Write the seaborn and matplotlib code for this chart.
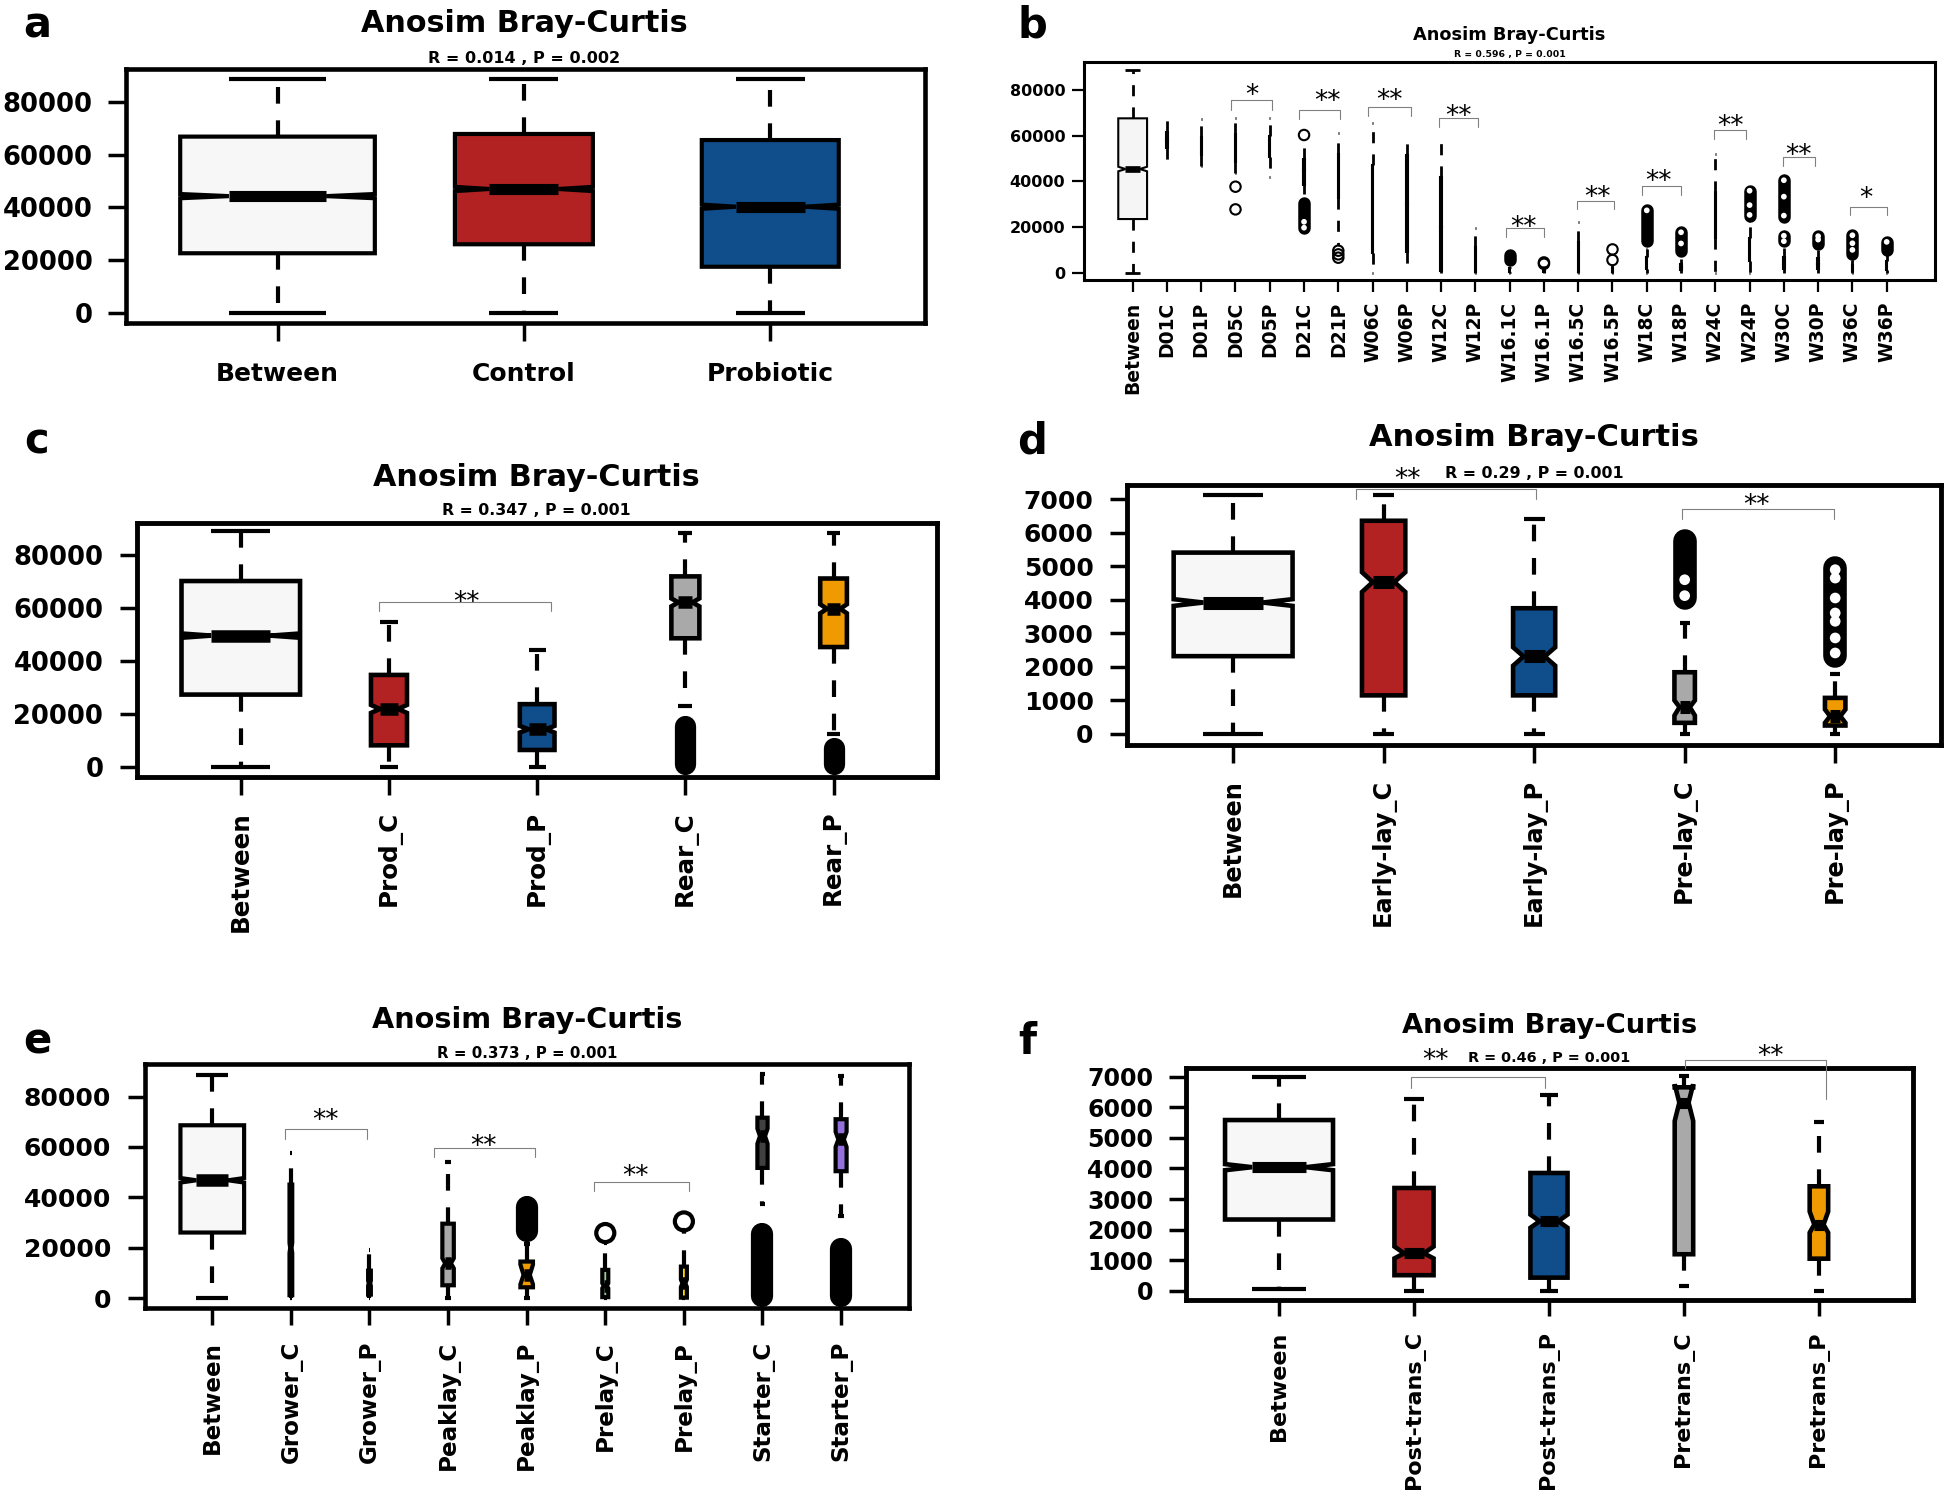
import numpy as np
import pandas as pd
import matplotlib
matplotlib.use("Agg")
import matplotlib.pyplot as plt
import seaborn as sns

sns.set_theme(style="ticks")
plt.rcParams["font.family"] = ["DejaVu Sans"]
plt.rcParams["figure.facecolor"] = "white"
plt.rcParams["axes.facecolor"] = "white"

W, H, DPI = 1946, 1506, 100

# ======================= DATA =======================
TITLE = "Anosim Bray-Curtis"

# ---- panel a ----
a_groups = ["Between", "Control", "Probiotic"]
a_whislo = [0, 0, 0]
a_q1 = [22700, 26100, 17600]
a_med = [44300, 47000, 40300]
a_q3 = [66800, 67800, 65500]
a_whishi = [88700, 88700, 88700]
a_cilo = [43500, 46200, 39500]
a_cihi = [45100, 47800, 41100]
a_fliers = [[], [], []]
a_bands = [[], [], []]
a_holes = [[], [], []]
a_stat = "R = 0.014 , P = 0.002"
a_brackets = []

# ---- panel b ----
b_groups = ["Between", "D01C", "D01P", "D05C", "D05P", "D21C", "D21P", "W06C", "W06P",
            "W12C", "W12P", "W16.1C", "W16.1P", "W16.5C", "W16.5P", "W18C", "W18P",
            "W24C", "W24P", "W30C", "W30P", "W36C", "W36P"]
b_whislo = [0, 45700, 46700, 43500, 42000, 34500, 12000, 0, 0, 0, 0, 0, 0, 0, 0, 0, 0,
            0, 0, 0, 0, 0, 0]
b_q1 = [23500, 54400, 51500, 48600, 50800, 38400, 32500, 8500, 9200, 800, 300, 500, 300,
        300, 300, 1500, 1000, 15000, 5000, 1500, 1500, 800, 1000]
b_med = [45400, 58000, 55000, 55000, 55000, 45000, 42000, 26000, 30000, 20000, 5000, 1000,
         1000, 5000, 1000, 4000, 2500, 25000, 10000, 4000, 4000, 2000, 3000]
b_q3 = [67600, 61700, 59300, 60700, 59800, 50000, 52200, 47100, 51500, 42000, 11400, 2000,
        1800, 13600, 2000, 7000, 4000, 35500, 15000, 7000, 6500, 3500, 5000]
b_whishi = [88700, 69000, 67100, 67900, 67600, 55200, 61300, 65400, 61000, 57800, 19400,
            2500, 3000, 22300, 3400, 10500, 6000, 51800, 22800, 10600, 10000, 5500, 7700]
b_cilo = [44400] + [m for m in b_med[1:]]
b_cihi = [46400] + [m for m in b_med[1:]]
b_fliers = [[], [], [], [37660, 27730], [], [60300], [9630, 8030, 6570], [], [], [], [],
            [], [4500, 3900], [], [10200, 5550], [], [], [], [], [], [], [], []]
b_bands = [[], [], [], [], [], [(19700, 30500)], [], [], [], [], [], [(5400, 7900)], [],
           [], [], [(14100, 27300)], [(9500, 17700)], [], [(25000, 35900)],
           [(24600, 40500), (13800, 16200)], [(12700, 16000)], [(8000, 16400)],
           [(10000, 13500)]]
b_holes = [[], [], [], [], [], [19700, 22300], [], [], [], [], [], [], [], [], [],
           [27300], [17700, 12800], [], [35900, 29600, 25300],
           [40500, 33300, 25000, 16200, 13800], [16000, 14500], [16400, 12900, 10000],
           [13500]]
b_stat = "R = 0.596 , P = 0.001"
b_brackets = [(2.87, 4.06, 75600, 71230, 71230, "*", 3.49, 81150),
              (4.86, 6.05, 71230, 67290, 67290, "**", 5.68, 78820),
              (6.87, 8.11, 72400, 68600, 68600, "**", 7.48, 78970),
              (8.94, 10.09, 67580, 63640, 63640, "**", 9.50, 71960),
              (10.89, 12.01, 19410, 15470, 15470, "**", 11.40, 23350),
              (12.97, 14.05, 31380, 27730, 27730, "**", 13.56, 36490),
              (14.87, 15.99, 38100, 34000, 34000, "**", 15.34, 43500),
              (16.97, 17.90, 62470, 58380, 58380, "**", 17.43, 67870),
              (18.98, 19.91, 50790, 46700, 46700, "**", 19.44, 55170),
              (20.93, 22.00, 28900, 25250, 25250, "*", 21.39, 36200)]

# ---- panel c ----
c_groups = ["Between", "Prod_C", "Prod_P", "Rear_C", "Rear_P"]
c_whislo = [0, 0, 0, 23000, 12500]
c_q1 = [27300, 8200, 6450, 48500, 45200]
c_med = [49500, 21900, 14250, 62000, 59600]
c_q3 = [70050, 34700, 23700, 71800, 71000]
c_whishi = [88700, 54600, 44100, 88100, 88100]
c_cilo = [48700, 20400, 13000, 60500, 57900]
c_cihi = [50300, 23400, 15500, 63500, 61300]
c_fliers = [[], [], [], [], []]
c_bands = [[], [], [], [(1000, 15300)], [(1000, 7200)]]
c_holes = [[], [], [], [], []]
c_stat = "R = 0.347 , P = 0.001"
c_brackets = [(0.93, 2.09, 61980, 58620, 58620, "**", 1.525, 64940)]

# ---- panel d ----
d_groups = ["Between", "Early-lay_C", "Early-lay_P", "Pre-lay_C", "Pre-lay_P"]
d_whislo = [0, 0, 0, 0, 0]
d_q1 = [2320, 1150, 1150, 330, 250]
d_med = [3920, 4530, 2310, 800, 530]
d_q3 = [5410, 6360, 3750, 1840, 1075]
d_whishi = [7140, 7140, 6410, 3300, 1800]
d_cilo = [3820, 4235, 2035, 550, 330]
d_cihi = [4020, 4825, 2585, 1000, 730]
d_fliers = [[], [], [], [], []]
d_bands = [[], [], [], [(4070, 5750)], [(2330, 4960)]]
d_holes = [[], [], [], [4600, 4125], [4900, 4650, 4055, 3608, 3360, 2863, 2415]]
d_stat = "R = 0.29 , P = 0.001"
d_brackets = [(0.817, 2.01, 7298, 7000, 7000, "**", 1.159, 7831),
              (2.98, 3.99, 6712, 6424, 6424, "**", 3.48, 7064)]

# ---- panel e ----
e_groups = ["Between", "Grower_C", "Grower_P", "Peaklay_C", "Peaklay_P", "Prelay_C",
            "Prelay_P", "Starter_C", "Starter_P"]
e_whislo = [0, 0, 0, 0, 0, 0, 0, 37500, 32500]
e_q1 = [26100, 1300, 1500, 5200, 4400, 500, 300, 51700, 50400]
e_med = [46800, 20000, 6000, 13900, 9300, 5000, 6000, 64300, 63000]
e_q3 = [68600, 45100, 11000, 29600, 14600, 11300, 12600, 71600, 71000]
e_whishi = [88700, 57500, 19200, 54000, 21500, 21900, 27200, 88900, 88000]
e_cilo = [45900, 18000, 5000, 11900, 5600, 4000, 4500, 61300, 60000]
e_cihi = [47700, 22000, 7000, 15900, 13400, 6000, 7500, 67300, 66000]
e_fliers = [[], [], [], [], [], [25900], [30500], [], []]
e_bands = [[], [], [], [], [(26850, 36150)], [], [], [(1000, 25550)], [(1000, 19600)]]
e_holes = [[], [], [], [], [], [], [], [], []]
e_stat = "R = 0.373 , P = 0.001"
e_brackets = [(0.925, 1.964, 67000, 63300, 63300, "**", 1.443, 73630),
              (2.825, 4.106, 59700, 56120, 56120, "**", 3.448, 63680),
              (4.856, 6.069, 46170, 42720, 42720, "**", 5.378, 51740)]

# ---- panel f ----
f_groups = ["Between", "Post-trans_C", "Post-trans_P", "Pretrans_C", "Pretrans_P"]
f_whislo = [60, 0, 0, 170, 0]
f_q1 = [2330, 510, 430, 1195, 1050]
f_med = [4040, 1225, 2275, 6150, 2165]
f_q3 = [5580, 3360, 3850, 6650, 3415]
f_whishi = [7000, 6260, 6400, 7020, 5520]
f_cilo = [3940, 1060, 2060, 5550, 1900]
f_cihi = [4140, 1445, 2490, 6750, 2590]
f_fliers = [[], [], [], [], []]
f_bands = [[], [], [], [], []]
f_holes = [[], [], [], [], []]
f_stat = "R = 0.46 , P = 0.001"
f_brackets = [(0.975, 1.97, 6977, 6624, 6624, "**", 1.156, 7797),
              (3.01, 4.05, 7535, 7284, 6260, "**", 3.64, 7945)]

ticks_big = [0, 20000, 40000, 60000, 80000]
ticks_small = [0, 1000, 2000, 3000, 4000, 5000, 6000, 7000]

# ======================= STYLE =======================
LIGHT, RED, BLUE, GRAY, ORANGE = "#F7F7F7", "#B22222", "#104E8B", "#A9A9A9", "#EE9A00"
GREEN, GOLD, DARK, PURPLE = "#9BCD9B", "#FFD700", "#404040", "#9370DB"


def px_rect(l, t, r, b):
    return [l / W, 1 - b / H, (r - l) / W, (b - t) / H]


fig = plt.figure(figsize=(W / DPI, H / DPI), dpi=DPI)


def draw_panel(rect, xlim, ylim, yticks, groups, whislo, q1, med, q3, whishi, cilo, cihi,
               fliers, bands, holes, widths, colors, st, brackets):
    ax = fig.add_axes(px_rect(*rect))
    n = len(groups)
    stats = [dict(whislo=whislo[i], q1=q1[i], med=med[i], q3=q3[i], whishi=whishi[i],
                  cilo=cilo[i], cihi=cihi[i], fliers=[], label=groups[i]) for i in range(n)]
    bp = ax.bxp(stats, positions=list(range(n)), widths=widths,
                capwidths=[0.5 * w for w in widths], shownotches=True,
                patch_artist=True, showfliers=False, manage_ticks=False,
                boxprops=dict(linewidth=st["box"], edgecolor="black"),
                whiskerprops=dict(linewidth=st["whisk"], color="black",
                                  linestyle=(0, (4, 4))),
                capprops=dict(linewidth=st["cap"], color="black", solid_capstyle="butt"),
                medianprops=dict(linewidth=st["med"], color="black",
                                 solid_capstyle="butt"))
    for patch, c in zip(bp["boxes"], colors):
        patch.set_facecolor(c)
        patch.set_joinstyle("miter")
    # dense stacks of outliers
    for i, bl in enumerate(bands):
        for lo, hi in bl:
            ax.plot([i, i], [lo, hi], color="black", lw=st["ms"] + st["mew"],
                    solid_capstyle="round", zorder=4)
    fx = [i for i, fl in enumerate(fliers) for _ in fl]
    fy = [v for fl in fliers for v in fl]
    if fx:
        sns.scatterplot(x=fx, y=fy, ax=ax, marker="o", s=st["ms"] ** 2,
                        facecolor="none", edgecolor="black", linewidth=st["mew"],
                        zorder=5, legend=False)
    # gaps visible inside the stacks
    hx = [i for i, hl in enumerate(holes) for _ in hl]
    hy = [v for hl in holes for v in hl]
    if hx:
        sns.scatterplot(x=hx, y=hy, ax=ax, marker="o", s=(0.55 * st["ms"]) ** 2,
                        facecolor="white", edgecolor="none", linewidth=0,
                        zorder=5, legend=False)
    for xl, xr, yt, yl, yr, lab, sx, sy in brackets:
        ax.plot([xl, xl, xr, xr], [yl, yt, yt, yr], color="#808080", lw=st["br"],
                clip_on=False, zorder=6)
        ax.annotate(lab, xy=(sx, sy), xytext=(0, -0.6 * st["star"]),
                    textcoords="offset points", ha="center", va="baseline",
                    fontsize=st["star"], color="black", annotation_clip=False)
    ax.set_xlim(*xlim)
    ax.set_ylim(*ylim)
    ax.set_xticks(list(range(n)))
    ax.set_xticklabels(groups, rotation=st["xrot"], fontsize=st["xfs"], fontweight="bold")
    ax.set_yticks(yticks)
    ax.set_yticklabels([str(v) for v in yticks], fontsize=st["yfs"], fontweight="bold")
    ax.tick_params(axis="x", direction="out", length=st["xtl"], width=st["tickw"],
                   pad=st["xpad"], colors="black", bottom=True, top=False)
    ax.tick_params(axis="y", direction="out", length=st["ytl"], width=st["tickw"],
                   pad=st["ypad"], colors="black", left=True, right=False)
    ax.set_xlabel("")
    ax.set_ylabel("")
    for s in ax.spines.values():
        s.set_visible(True)
        s.set_linewidth(st["frame"])
        s.set_color("black")
    return ax


st_a = dict(box=3.0, whisk=3.0, cap=3.0, med=8.0, frame=3.3, tickw=2.5, xtl=13, ytl=13,
            xpad=15, ypad=11, ms=0, mew=0, br=0.8, star=19, xfs=18, yfs=18.5, xrot=0)
st_b = dict(box=1.5, whisk=2.0, cap=2.0, med=4.8, frame=2.2, tickw=1.6, xtl=8.5, ytl=8.5,
            xpad=7, ypad=5, ms=7.5, mew=1.5, br=0.8, star=19, xfs=13.5, yfs=11.5, xrot=90)
st_c = dict(box=3.3, whisk=3.0, cap=3.0, med=9.0, frame=3.5, tickw=2.5, xtl=13, ytl=12,
            xpad=11.5, ypad=12, ms=12.5, mew=2.8, br=0.8, star=19, xfs=17.7, yfs=18.5,
            xrot=90)
st_d = dict(box=3.3, whisk=3.0, cap=3.0, med=9.4, frame=3.5, tickw=2.5, xtl=13, ytl=12,
            xpad=11.5, ypad=12, ms=14, mew=3.0, br=0.8, star=19, xfs=17.3, yfs=18,
            xrot=90)
st_e = dict(box=3.0, whisk=3.0, cap=3.0, med=9.0, frame=3.3, tickw=2.5, xtl=12.5, ytl=12,
            xpad=11, ypad=12, ms=13, mew=3.0, br=0.8, star=19, xfs=16.6, yfs=18, xrot=90)
st_f = dict(box=3.3, whisk=3.0, cap=3.0, med=8.0, frame=3.5, tickw=2.5, xtl=11.8, ytl=12.5,
            xpad=11, ypad=11, ms=13, mew=3.0, br=0.8, star=19, xfs=16, yfs=17, xrot=90)

draw_panel((126, 69, 925, 322.7), (-0.615, 2.628), (-3554, 92363), ticks_big,
           a_groups, a_whislo, a_q1, a_med, a_q3, a_whishi, a_cilo, a_cihi,
           a_fliers, a_bands, a_holes, [0.79, 0.56, 0.556], [LIGHT, RED, BLUE],
           st_a, a_brackets)
draw_panel((1084, 62.3, 1935, 280), (-1.42, 23.41), (-3197, 92139), ticks_big,
           b_groups, b_whislo, b_q1, b_med, b_q3, b_whishi, b_cilo, b_cihi,
           b_fliers, b_bands, b_holes, [0.84] + [0.04] * 22, ["#F5F5F5"] + ["white"] * 22,
           st_b, b_brackets)
draw_panel((136.6, 522.5, 937, 776.8), (-0.703, 4.698), (-3650, 92085), ticks_big,
           c_groups, c_whislo, c_q1, c_med, c_q3, c_whishi, c_cilo, c_cihi,
           c_fliers, c_bands, c_holes, [0.80, 0.243, 0.234, 0.189, 0.18],
           [LIGHT, RED, BLUE, GRAY, ORANGE], st_c, c_brackets)
draw_panel((1127, 485, 1941, 744.6), (-0.705, 4.703), (-319, 7427), ticks_small,
           d_groups, d_whislo, d_q1, d_med, d_q3, d_whishi, d_cilo, d_cihi,
           d_fliers, d_bands, d_holes, [0.79, 0.288, 0.28, 0.136, 0.136],
           [LIGHT, RED, BLUE, GRAY, ORANGE], st_d, d_brackets)
draw_panel((144.6, 1063.8, 909.4, 1308.2), (-0.861, 8.869), (-3883, 92957), ticks_big,
           e_groups, e_whislo, e_q1, e_med, e_q3, e_whishi, e_cilo, e_cihi,
           e_fliers, e_bands, e_holes,
           [0.81, 0.035, 0.035, 0.146, 0.16, 0.076, 0.076, 0.13, 0.14],
           [LIGHT, RED, BLUE, GRAY, ORANGE, GREEN, GOLD, DARK, PURPLE], st_e, e_brackets)
draw_panel((1185.9, 1067.9, 1913.4, 1299.5), (-0.69, 4.70), (-284, 7284), ticks_small,
           f_groups, f_whislo, f_q1, f_med, f_q3, f_whishi, f_cilo, f_cihi,
           f_fliers, f_bands, f_holes, [0.80, 0.29, 0.275, 0.137, 0.137],
           [LIGHT, RED, BLUE, GRAY, ORANGE], st_f, f_brackets)


def ftext(x, y, s, size, weight="bold"):
    fig.text(x / W, 1 - y / H, s, fontsize=size, fontweight=weight, ha="center",
             va="baseline", color="black")


# titles, statistics lines, panel letters
heads = [(524.5, 31.7, 21.8, 62.7, 11.5, a_stat, "a", 37, 38),
         (1509.5, 40.0, 12.8, 57.3, 6.7, b_stat, "b", 1032, 38),
         (536.8, 485.7, 21.8, 515.0, 11.3, c_stat, "c", 37, 453.6),
         (1534.0, 446.4, 22.0, 477.9, 11.4, d_stat, "d", 1032, 453.6),
         (527.0, 1027.9, 20.7, 1058.5, 10.8, e_stat, "e", 37, 1054),
         (1549.6, 1033.1, 19.7, 1061.7, 10.4, f_stat, "f", 1027.6, 1054)]
for cx, ty, tfs, sy, sfs, stat, letter, lx, ly in heads:
    ftext(cx, ty, TITLE, tfs)
    ftext(cx, sy, stat, sfs)
    ftext(lx, ly, letter, 30)

fig.savefig("out.png", dpi=DPI)
